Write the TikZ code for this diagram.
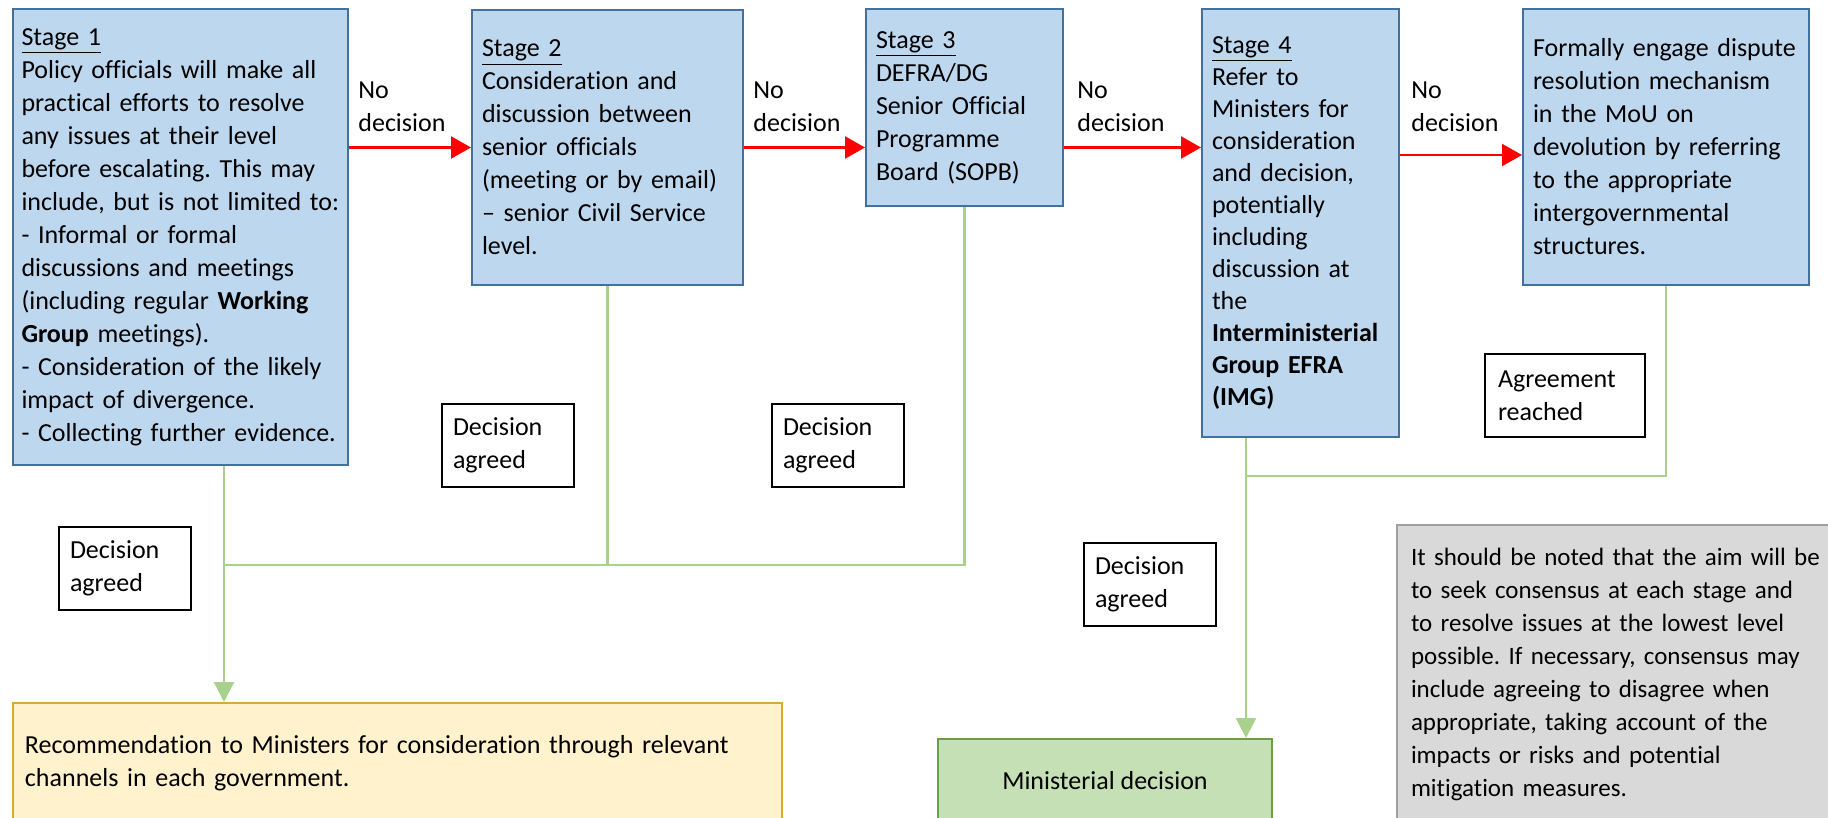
\documentclass[tikz,border=0pt]{standalone}
\usepackage{fontspec}
\setmainfont[Ligatures={TeX,NoCommon}]{Carlito}
\usepackage{xcolor}
\usetikzlibrary{arrows.meta, positioning}
\frenchspacing

\definecolor{stagefill}{RGB}{189,215,238}
\definecolor{stagedraw}{RGB}{65,113,156}
\definecolor{agreegreen}{RGB}{169,209,142}
\definecolor{recfill}{RGB}{255,242,204}
\definecolor{recdraw}{RGB}{212,172,52}
\definecolor{minfill}{RGB}{197,224,180}
\definecolor{mindraw}{RGB}{106,158,72}
\definecolor{notefill}{RGB}{217,217,217}
\definecolor{notedraw}{RGB}{160,160,160}

\tikzset{
  stagebox/.style={draw=stagedraw, fill=stagefill, line width=1pt, rectangle, anchor=north west, align=left, inner xsep=5pt, inner ysep=0pt},
  decbox/.style={draw, fill=white, line width=1pt, rectangle, anchor=north west, align=left, inner xsep=5.5pt, text width=55pt, minimum width=66pt, minimum height=41.5pt},
  recbox/.style={draw=recdraw, fill=recfill, line width=1pt, rectangle, anchor=north west, align=left, inner xsep=6pt},
  minbox/.style={draw=mindraw, fill=minfill, line width=1pt, rectangle, anchor=north west},
  notebox/.style={draw=notedraw, fill=notefill, line width=1pt, rectangle, anchor=north west, align=left, inner xsep=7pt, font=\fontsize{12.5pt}{16.5pt}\selectfont},
  nolabel/.style={anchor=north west, align=left, inner sep=0pt},
  noflow/.style={draw=red, line width=1.1pt, -{Triangle[length=10pt,width=11pt]}},
  agreeflow/.style={draw=agreegreen, line width=1.3pt},
}

\begin{document}
\begin{tikzpicture}[x=0.5pt, y=-0.5pt, font=\fontsize{13pt}{16.5pt}\selectfont]
  \useasboundingbox (0,0) rectangle (1828,818);

  % stages
  \node[stagebox, text width=159pt, inner xsep=4.25pt, minimum height=228pt] (s1) at (12,8) {\underline{Stage 1}\\Policy officials will make all\\practical efforts to resolve\\any issues at their level\\before escalating. This may\\include, but is not limited to:\\- Informal or formal\\discussions and meetings\\(including regular \textbf{Working}\\\textbf{Group} meetings).\\- Consideration of the likely\\impact of divergence.\\- Collecting further evidence.};
  \node[stagebox, text width=125.5pt, minimum height=137.5pt] (s2) at (471,9) {\underline{Stage 2}\\Consideration and\\discussion between\\senior officials\\(meeting or by email)\\-- senior Civil Service\\level.};
  \node[stagebox, text width=88.5pt, minimum height=98.5pt] (s3) at (865,8) {\underline{Stage 3}\\DEFRA/DG\\Senior Official\\Programme\\Board (SOPB)};
  \node[stagebox, text width=88.5pt, minimum height=214pt, font=\fontsize{13pt}{16pt}\selectfont] (s4) at (1201,8) {\underline{Stage 4}\\Refer to\\Ministers for\\consideration\\and decision,\\potentially\\including\\discussion at\\the\\\textbf{Interministerial}\\\textbf{Group EFRA}\\\textbf{(IMG)}};
  \node[stagebox, text width=133pt, minimum height=138pt] (s5) at (1522,8) {Formally engage dispute\\resolution mechanism\\in the MoU on\\devolution by referring\\to the appropriate\\intergovernmental\\structures.};

  \node[nolabel] (nd1) at (358,81) {No\\decision};
  \node[nolabel] (nd2) at (753,81) {No\\decision};
  \node[nolabel] (nd3) at (1077,81) {No\\decision};
  \node[nolabel] (nd4) at (1411,81) {No\\decision};

  \draw[noflow] (s1.east |- s2.west) -- (s2.west);
  \draw[noflow] (s2.east) -- (s2.east -| s3.west);
  \draw[noflow] (s3.east |- s2.east) -- (s2.east -| s4.west);
  \draw[noflow] ([yshift=-4pt]s5.west -| s4.east) -- ([yshift=-4pt]s5.west);

  % outcomes
  \node[recbox, text width=372.5pt, minimum height=60.5pt] (rec) at (12,702) {Recommendation to Ministers for consideration through relevant\\channels in each government.};
  \node[minbox, minimum width=167pt, minimum height=42pt] (mindec) at (937,738) {Ministerial decision};
  \node[notebox, text width=226pt, minimum height=149.5pt] (note) at (1396,524) {It should be noted that the aim will be\\to seek consensus at each stage and\\to resolve issues at the lowest level\\possible. If necessary, consensus may\\include agreeing to disagree when\\appropriate, taking account of the\\impacts or risks and potential\\mitigation measures.};

  \coordinate (j1) at (224,565);
  \coordinate (j2) at (1246,476);

  \draw[agreeflow] (s2.south) -- (s2.south |- j1);
  \draw[agreeflow] (s3.south) |- (j1);
  \draw[agreeflow, -{Triangle[length=10pt,width=10pt]}] (s1.south -| j1) -- (rec.north -| j1);
  \draw[agreeflow] (s5.south) |- (j2);
  \draw[agreeflow, -{Triangle[length=10pt,width=10pt]}] (s4.south -| j2) -- (mindec.north -| j2);

  \node[decbox] (da1) at (58,526) {Decision\\agreed};
  \node[decbox] (da2) at (441,403) {Decision\\agreed};
  \node[decbox] (da3) at (771,403) {Decision\\agreed};
  \node[decbox] (da4) at (1083,542) {Decision\\agreed};
  \node[decbox, text width=67pt, minimum width=80pt, inner xsep=6.5pt] (agr) at (1484,353) {Agreement\\reached};

\end{tikzpicture}
\end{document}
